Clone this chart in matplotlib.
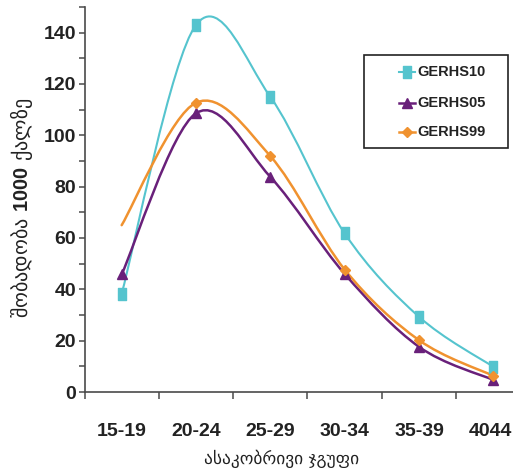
import numpy as np
import matplotlib
matplotlib.use("Agg")
import matplotlib.pyplot as plt
import matplotlib.transforms as mtransforms
from matplotlib.path import Path
from matplotlib.patches import PathPatch, Rectangle
from matplotlib.lines import Line2D

categories = ["15-19", "20-24", "25-29", "30-34", "35-39", "4044"]
gerhs10 = [38.3, 143.0, 115.0, 61.8, 29.3, 9.8]
gerhs05 = [45.8, 108.6, 83.8, 46.0, 17.6, 4.7]
gerhs99 = [65.0, 112.7, 91.9, 47.7, 20.2, 6.3]
series_names = ["GERHS10", "GERHS05", "GERHS99"]
y_ticks = [0, 20, 40, 60, 80, 100, 120, 140]

c10 = "#55C4CE"
c05 = "#69207A"
c99 = "#F0922F"

plt.rcParams['mathtext.fontset'] = 'custom'
plt.rcParams['mathtext.bf'] = 'Liberation Sans:bold'

W, H = 513, 473
fig = plt.figure(figsize=(W / 100, H / 100), dpi=100)
ax = fig.add_axes([84.5 / W, 81 / H, 446 / W, 385 / H])
ax.set_xlim(-0.5, 5.5)
ax.set_ylim(0, 150)


def smooth_path(xs, ys):
    pts = np.column_stack([xs, ys]).astype(float)
    n = len(pts)
    ext = np.vstack([pts[0], pts, pts[-1]])
    verts = [tuple(pts[0])]
    codes = [Path.MOVETO]
    for i in range(n - 1):
        p0, p1, p2, p3 = ext[i], ext[i + 1], ext[i + 2], ext[i + 3]
        c1 = p1 + (p2 - p0) / 6.0
        c2 = p2 - (p3 - p1) / 6.0
        verts += [tuple(c1), tuple(c2), tuple(p2)]
        codes += [Path.CURVE4] * 3
    return Path(verts, codes)


xs = np.arange(len(categories))
rect_marker = Path([(-0.62, -1), (0.62, -1), (0.62, 1), (-0.62, 1), (-0.62, -1)],
                   [Path.MOVETO, Path.LINETO, Path.LINETO, Path.LINETO, Path.CLOSEPOLY])

styles = [
    (gerhs10, c10, rect_marker, 9.0, 1.5, None),
    (gerhs05, c05, "^", 7.0, 1.8, None),
    (gerhs99, c99, "D", 5.5, 1.8, list(range(1, 6))),
]
for vals, col, mk, ms, lw, mev in styles:
    ax.add_patch(PathPatch(smooth_path(xs, vals), facecolor="none", edgecolor=col,
                           lw=lw, zorder=3, capstyle="round", joinstyle="round"))
    idx = mev if mev is not None else list(range(len(vals)))
    ax.plot(xs[idx], np.array(vals)[idx], linestyle="none", marker=mk, ms=ms,
            color=col, mec=col, zorder=4)

for s in ["top", "right"]:
    ax.spines[s].set_visible(False)
for s in ["left", "bottom"]:
    ax.spines[s].set_color("#4a4a4a")
    ax.spines[s].set_linewidth(1.2)

tickfont = dict(family="Liberation Sans", weight="bold", size=14)
ax.set_yticks(y_ticks)
ax.set_yticklabels([str(v) for v in y_ticks], fontdict=tickfont, color="#222222")
ax.set_yticks([v + 10 for v in y_ticks], minor=True)
ax.tick_params(axis="y", which="both", direction="out", length=4.5, width=1.1,
               color="#4a4a4a", pad=1.5)

ax.set_xticks(np.arange(-0.5, 6.0, 1.0))
ax.set_xticklabels([])
ax.set_xticks(xs, minor=True)
ax.set_xticklabels(categories, minor=True, fontdict=tickfont, color="#222222")
ax.tick_params(axis="x", which="major", direction="out", length=5, width=1.1, color="#4a4a4a")
ax.tick_params(axis="x", which="minor", length=0, pad=22)
last = ax.get_xticklabels(minor=True)[-1]
last.set_transform(last.get_transform() +
                   mtransforms.ScaledTranslation(-3 / 100, 0, fig.dpi_scale_trans))

fig.text(22 / W, 1 - 208 / H, "შობადობა $\\mathbf{1000}$ ქალზე", rotation=90,
         ha="center", va="center", fontsize=14.5, family="DejaVu Sans", color="#222222")
fig.text(282 / W, 1 - 459 / H, "ასაკობრივი ჯგუფი", ha="center", va="center",
         fontsize=12.5, family="DejaVu Sans", color="#222222")

# legend box
fig.add_artist(Rectangle((364 / W, 1 - 148 / H), 144 / W, 93 / H, transform=fig.transFigure,
                         facecolor="white", edgecolor="#222222", lw=1.2, zorder=5))
rows = [72, 103, 132]
for (vals, col, mk, ms, lw, mev), name, ry in zip(styles, series_names, rows):
    yy = 1 - ry / H
    fig.add_artist(Line2D([399 / W, 415 / W], [yy, yy], transform=fig.transFigure,
                          color=col, lw=lw, zorder=6))
    fig.add_artist(Line2D([407 / W], [yy], transform=fig.transFigure, marker=mk, ms=ms,
                          color=col, mec=col, linestyle="none", zorder=7))
    fig.text(417 / W, yy, name, ha="left", va="center", fontsize=10.5,
             family="Liberation Sans", weight="bold", color="#222222", zorder=7)

fig.savefig("out.png", dpi=100)
